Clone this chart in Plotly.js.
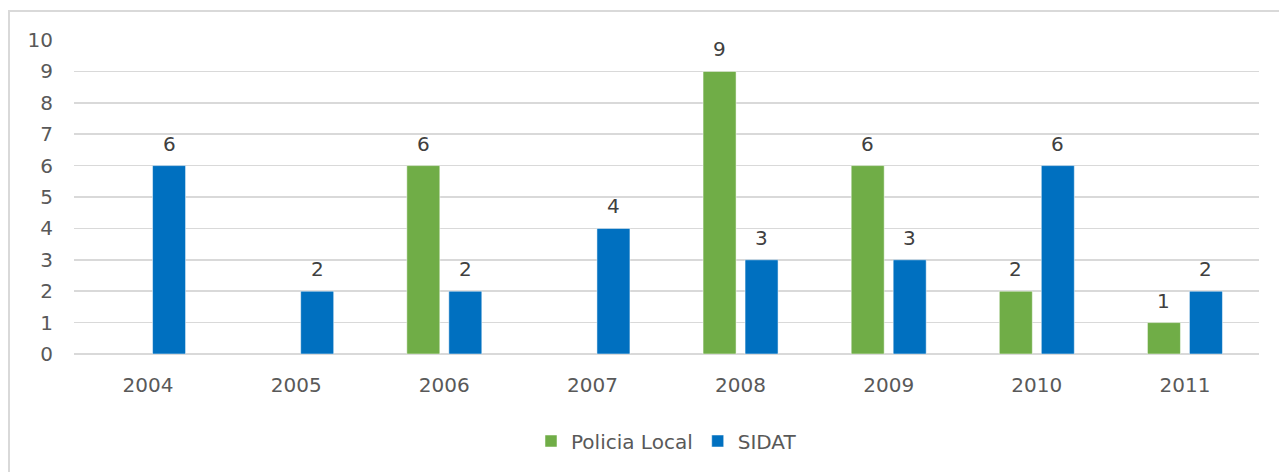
<!DOCTYPE html>
<html>
<head>
<meta charset="utf-8">
<script src="https://cdn.plot.ly/plotly-3.0.1.min.js"></script>
<style>
html,body{margin:0;padding:0;background:#fff;}
#wrap{position:relative;width:1279px;height:472px;overflow:hidden;}
#chart{position:absolute;left:0;top:0;width:1279px;height:472px;}
#frame{position:absolute;left:8px;top:10px;width:1290px;height:480px;border:2px solid #d9d9d9;box-sizing:border-box;pointer-events:none;}
</style>
</head>
<body>
<div id="wrap"><div id="chart"></div><div id="frame"></div></div>
<script>
var years = ['2004','2005','2006','2007','2008','2009','2010','2011'];
var policiaLocal = [null, null, 6, null, 9, 6, 2, 1];
var sidat = [6, 2, 2, 4, 3, 3, 6, 2];
var yTicks = [0,1,2,3,4,5,6,7,8,9,10];

var font = 'Tahoma, Verdana, "DejaVu Sans", sans-serif';

var traces = [
  {type:'bar', name:'Policia Local', x:years, y:policiaLocal,
   marker:{color:'#70AD47', line:{color:'#ffffff', width:0.5}}, hoverinfo:'x+y'},
  {type:'bar', name:'SIDAT', x:years, y:sidat,
   marker:{color:'#0070C0', line:{color:'#ffffff', width:0.5}}, hoverinfo:'x+y'}
];

var annotations = [];
function addLabels(vals, shift){
  vals.forEach(function(v, i){
    if (v === null) return;
    annotations.push({x:i, y:v, xref:'x', yref:'y', text:String(v), showarrow:false,
      xanchor:'center', yanchor:'bottom', xshift:shift, yshift:8,
      font:{family:font, size:20, color:'#404040'}});
  });
}
addLabels(policiaLocal, -21);
addLabels(sidat, 21);

var layout = {
  width:1279, height:472,
  margin:{l:74, r:20, t:40, b:116},
  paper_bgcolor:'rgba(0,0,0,0)', plot_bgcolor:'#fff',
  font:{family:font, size:20, color:'#595959'},
  barmode:'group', bargap:0.433, bargroupgap:0.214,
  showlegend:true,
  annotations:annotations,
  legend:{orientation:'h', x:0.5, xanchor:'center', y:-0.215, yanchor:'top',
          font:{family:font,size:20,color:'#595959'}, itemwidth:30, traceorder:'normal'},
  xaxis:{type:'category', categoryorder:'array', categoryarray:years, range:[-0.5, 7.5],
         autorange:false, showgrid:false, zeroline:false, showline:false, ticks:'',
         tickfont:{family:font,size:20,color:'#595959'}, ticklabelstandoff:17},
  yaxis:{range:[0,10], autorange:false, tickvals:yTicks, ticktext:yTicks.map(String), showgrid:true,
         gridcolor:'#d9d9d9', gridwidth:1.5, zeroline:true, zerolinecolor:'#d9d9d9', zerolinewidth:1.5,
         showline:false, ticks:'', ticklabelstandoff:20,
         tickfont:{family:font,size:20,color:'#595959'}}
};

Plotly.newPlot('chart', traces, layout, {displayModeBar:false, staticPlot:true});
</script>
</body>
</html>
